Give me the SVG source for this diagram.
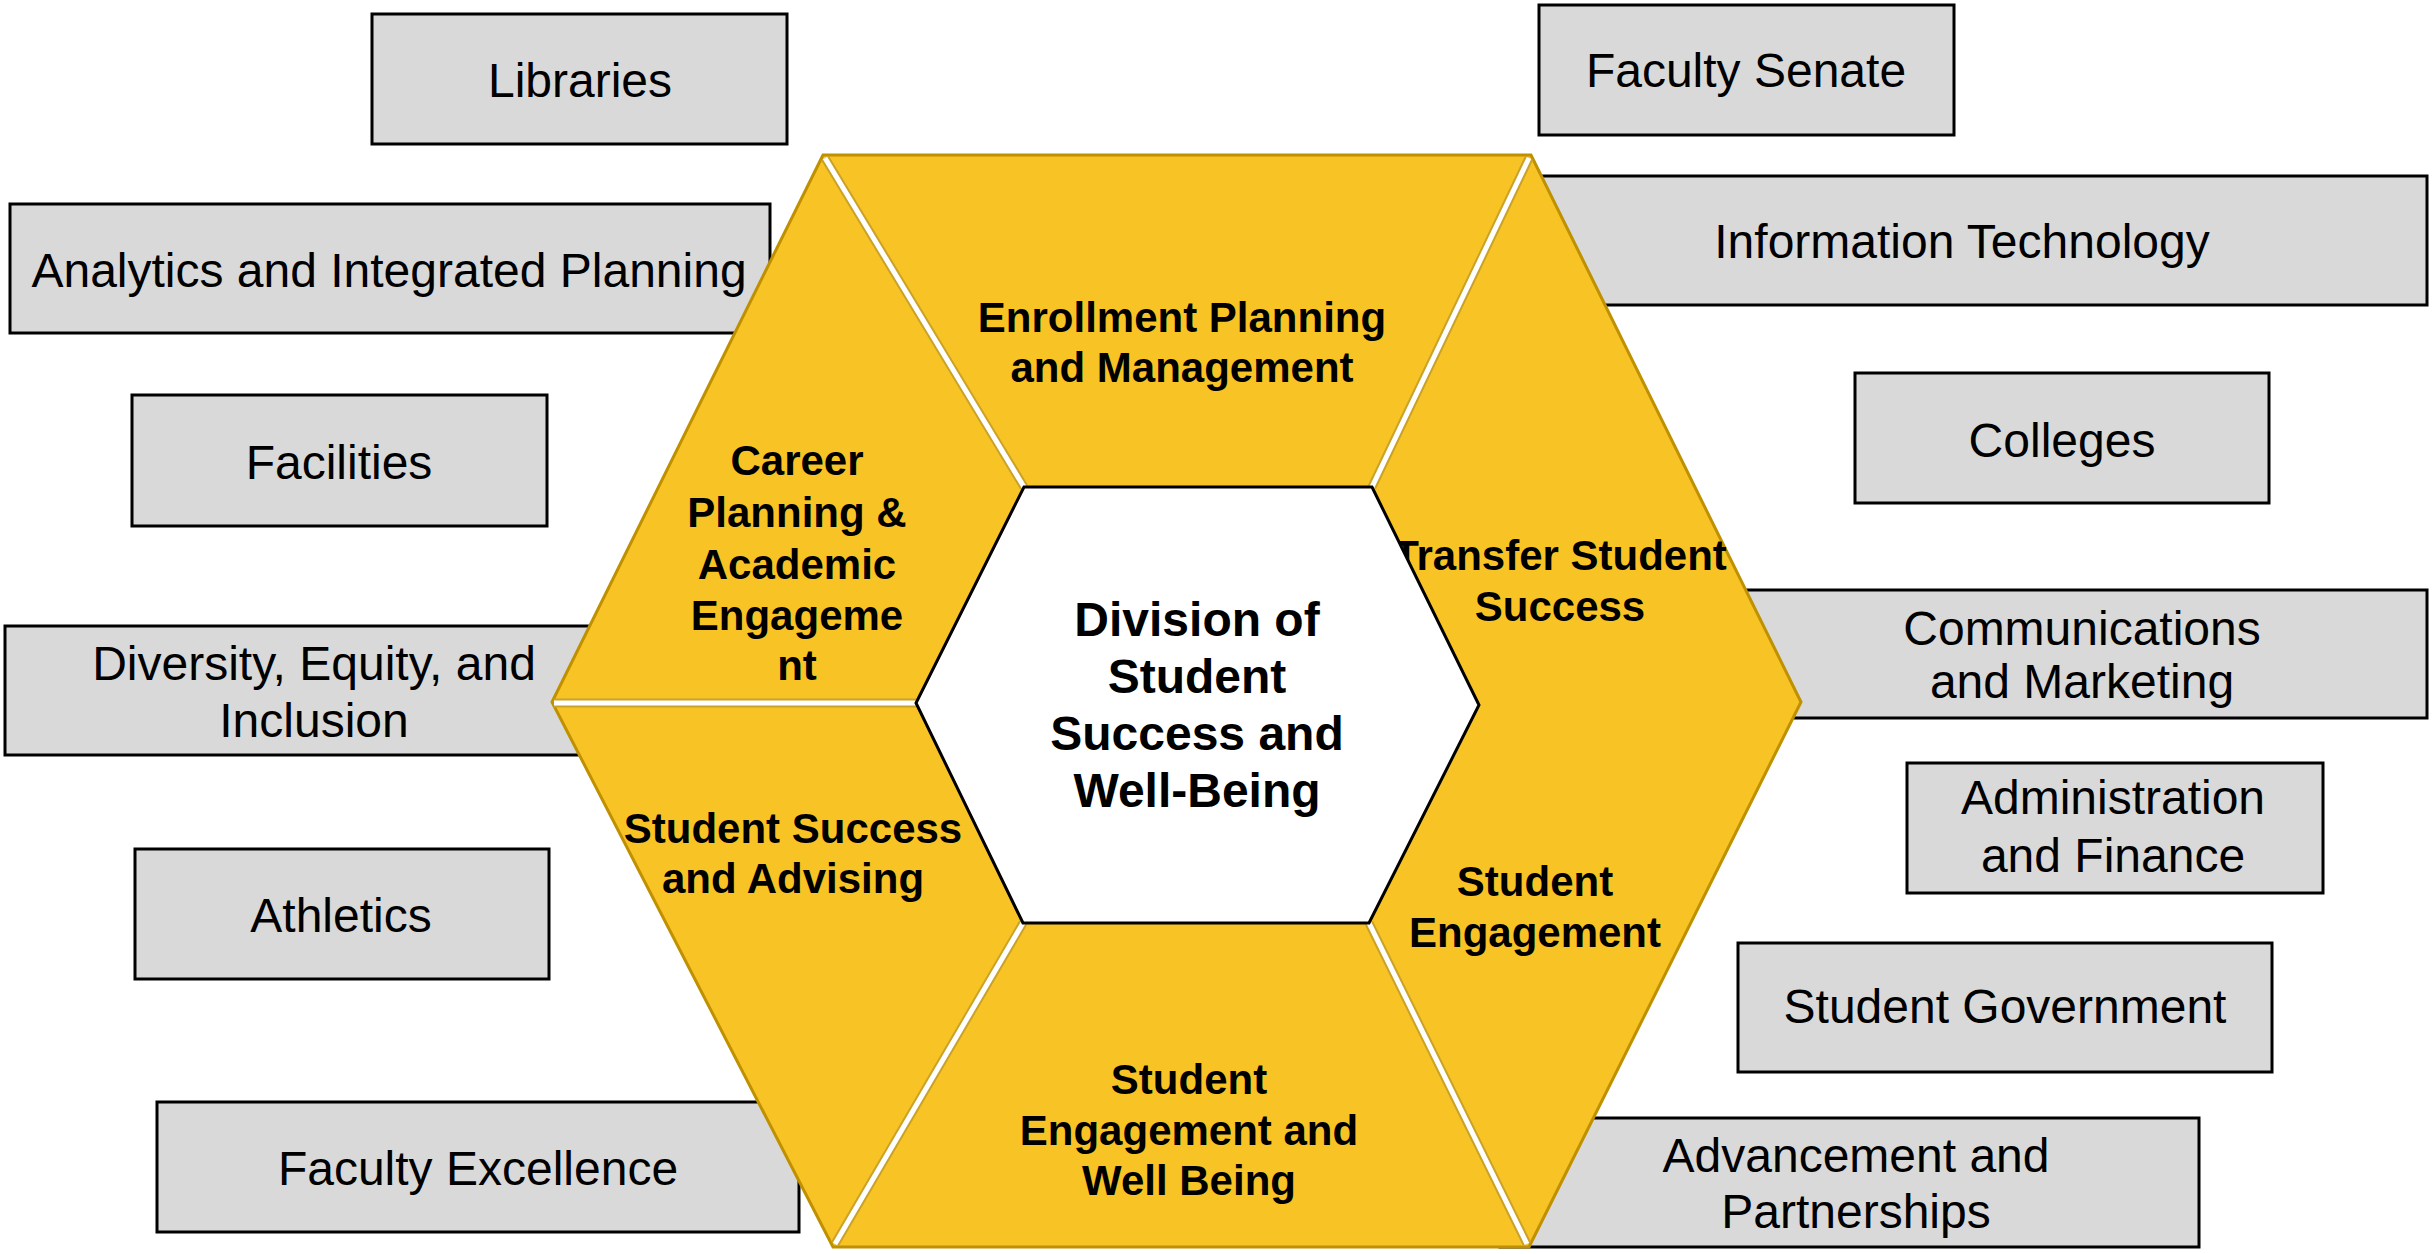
<svg xmlns="http://www.w3.org/2000/svg" width="2433" height="1254" viewBox="0 0 2433 1254">
<style>
.box{fill:#D9D9D9;stroke:#000;stroke-width:3}
.bt{font-family:"Liberation Sans",Arial,sans-serif;font-size:48px;fill:#000;text-anchor:middle}
.seg{font-family:"Liberation Sans",Arial,sans-serif;font-size:42px;font-weight:bold;fill:#000;text-anchor:middle}
.ctr{font-family:"Liberation Sans",Arial,sans-serif;font-size:48px;font-weight:bold;fill:#000;text-anchor:middle}
.gapo{stroke:#C9A227;stroke-width:9;stroke-linecap:butt;fill:none}
.gapi{stroke:#FFFFFF;stroke-width:5;stroke-linecap:butt;fill:none}
</style>
<rect width="2433" height="1254" fill="#FFFFFF"/>
<g id="libraries"><rect class="box" x="372" y="14" width="415" height="130"/><text class="bt" x="580" y="97">Libraries</text></g>
<g id="analytics"><rect class="box" x="10" y="204" width="760" height="129"/><text class="bt" x="389" y="287">Analytics and Integrated Planning</text></g>
<g id="facilities"><rect class="box" x="132" y="395" width="415" height="131"/><text class="bt" x="339" y="479">Facilities</text></g>
<g id="diversity"><rect class="box" x="5" y="626" width="615" height="129"/><text class="bt" x="314" y="680">Diversity, Equity, and</text><text class="bt" x="314" y="737">Inclusion</text></g>
<g id="athletics"><rect class="box" x="135" y="849" width="414" height="130"/><text class="bt" x="341" y="932">Athletics</text></g>
<g id="faculty-excellence"><rect class="box" x="157" y="1102" width="642" height="130"/><text class="bt" x="478" y="1185">Faculty Excellence</text></g>
<g id="faculty-senate"><rect class="box" x="1539" y="5" width="415" height="130"/><text class="bt" x="1746" y="87">Faculty Senate</text></g>
<g id="information-technology"><rect class="box" x="1500" y="176" width="927" height="129"/><text class="bt" x="1962" y="258">Information Technology</text></g>
<g id="colleges"><rect class="box" x="1855" y="373" width="414" height="130"/><text class="bt" x="2062" y="457">Colleges</text></g>
<g id="communications"><rect class="box" x="1700" y="590" width="727" height="128"/><text class="bt" x="2082" y="645">Communications</text><text class="bt" x="2082" y="698">and Marketing</text></g>
<g id="administration"><rect class="box" x="1907" y="763" width="416" height="130"/><text class="bt" x="2113" y="814">Administration</text><text class="bt" x="2113" y="872">and Finance</text></g>
<g id="student-government"><rect class="box" x="1738" y="943" width="534" height="129"/><text class="bt" x="2005" y="1023">Student Government</text></g>
<g id="advancement"><rect class="box" x="1500" y="1118" width="699" height="129"/><text class="bt" x="1856" y="1172">Advancement and</text><text class="bt" x="1856" y="1228">Partnerships</text></g>
<g id="hexagon">
<polygon points="823,155 1531,155 1801,702 1529,1247 833,1247 552,702" fill="#F8C324" stroke="#BF9000" stroke-width="3" stroke-linejoin="miter"/>
</g>
<g id="enrollment"><text class="seg" x="1182" y="332">Enrollment Planning</text><text class="seg" x="1182" y="382">and Management</text></g>
<g id="career"><text class="seg" x="797" y="475">Career</text><text class="seg" x="797" y="527">Planning &amp;</text><text class="seg" x="797" y="579">Academic</text><text class="seg" x="797" y="630">Engageme</text><text class="seg" x="797" y="680">nt</text></g>
<g id="transfer"><text class="seg" x="1560" y="570">Transfer Student</text><text class="seg" x="1560" y="621">Success</text></g>
<g id="advising"><text class="seg" x="793" y="843">Student Success</text><text class="seg" x="793" y="893">and Advising</text></g>
<g id="student-engagement"><text class="seg" x="1535" y="896">Student</text><text class="seg" x="1535" y="947">Engagement</text></g>
<g id="wellbeing"><text class="seg" x="1189" y="1094">Student</text><text class="seg" x="1189" y="1145">Engagement and</text><text class="seg" x="1189" y="1195">Well Being</text></g>
<g id="dividers">
<path class="gapo" d="M825,158 L1024,487 M1529,158 L1372,487 M554,703 L916,703 M1023,923 L835,1244 M1369,923 L1527,1244"/>
<path class="gapi" d="M825,158 L1024,487 M1529,158 L1372,487 M554,703 L916,703 M1023,923 L835,1244 M1369,923 L1527,1244"/>
</g>
<g id="center">
<polygon points="1024,487 1372,487 1479,705 1369,923 1023,923 916,703" fill="#FFFFFF" stroke="#000" stroke-width="3"/>
<text class="ctr" x="1197" y="636">Division of</text>
<text class="ctr" x="1197" y="693">Student</text>
<text class="ctr" x="1197" y="750">Success and</text>
<text class="ctr" x="1197" y="807">Well-Being</text>
</g>
<g id="connectors"></g>
</svg>
